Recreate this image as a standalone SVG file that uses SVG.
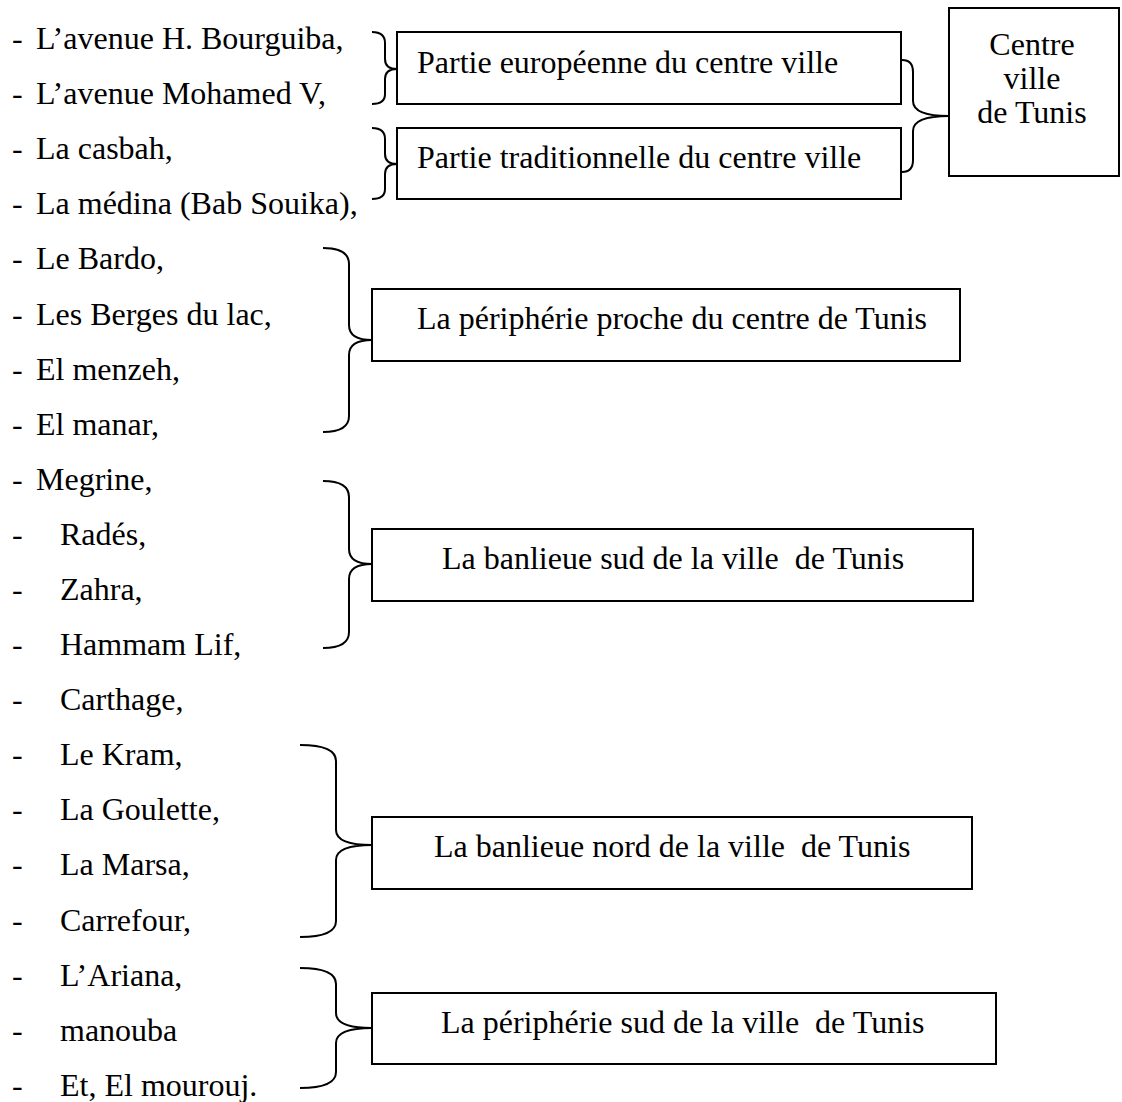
<svg xmlns="http://www.w3.org/2000/svg" width="1122" height="1102" viewBox="0 0 1122 1102">
<style>
text{font-family:"Liberation Serif","Times New Roman",serif;font-size:32px;fill:#000}
.box{fill:#fff;stroke:#000;stroke-width:2}
.br{fill:none;stroke:#000;stroke-width:2}
.c{text-anchor:middle}
</style>
<rect width="1122" height="1102" fill="#fff"/>
<g id="list">
<text x="12" y="49">-</text><text x="36" y="49">L’avenue H. Bourguiba,</text>
<text x="12" y="104">-</text><text x="36" y="104">L’avenue Mohamed V,</text>
<text x="12" y="159">-</text><text x="36" y="159">La casbah,</text>
<text x="12" y="214">-</text><text x="36" y="214">La médina (Bab Souika),</text>
<text x="12" y="269">-</text><text x="36" y="269">Le Bardo,</text>
<text x="12" y="325">-</text><text x="36" y="325">Les Berges du lac,</text>
<text x="12" y="380">-</text><text x="36" y="380">El menzeh,</text>
<text x="12" y="435">-</text><text x="36" y="435">El manar,</text>
<text x="12" y="490">-</text><text x="36" y="490">Megrine,</text>
<text x="12" y="545">-</text><text x="60" y="545">Radés,</text>
<text x="12" y="600">-</text><text x="60" y="600">Zahra,</text>
<text x="12" y="655">-</text><text x="60" y="655">Hammam Lif,</text>
<text x="12" y="710">-</text><text x="60" y="710">Carthage,</text>
<text x="12" y="765">-</text><text x="60" y="765">Le Kram,</text>
<text x="12" y="820">-</text><text x="60" y="820">La Goulette,</text>
<text x="12" y="875">-</text><text x="60" y="875">La Marsa,</text>
<text x="12" y="931">-</text><text x="60" y="931">Carrefour,</text>
<text x="12" y="986">-</text><text x="60" y="986">L’Ariana,</text>
<text x="12" y="1041">-</text><text x="60" y="1041">manouba</text>
<text x="12" y="1096">-</text><text x="60" y="1096">Et, El mourouj.</text>
</g>
<g id="connectors">
<path class="br" d="M372 32 Q385 32 385 43 L385 59 Q385 69 397 69 Q385 69 385 79 L385 94 Q385 104 372 104"/>
<path class="br" d="M372 128 Q385 128 385 139 L385 154 Q385 164 397 164 Q385 164 385 174 L385 189 Q385 199 372 199"/>
<path class="br" d="M902 60 Q913 60 913 72 L913 101 Q913 116 949 116 Q913 116 913 131 L913 160 Q913 172 902 172"/>
<path class="br" d="M323 248 Q349 248 349 264 L349 325 Q349 340 372 340 Q349 340 349 355 L349 416 Q349 432 323 432"/>
<path class="br" d="M323 481 Q349 481 349 497 L349 549 Q349 564 372 564 Q349 564 349 579 L349 632 Q349 648 323 648"/>
<path class="br" d="M300 745 Q336 745 336 761 L336 830 Q336 845 372 845 Q336 845 336 860 L336 921 Q336 937 300 937"/>
<path class="br" d="M300 968 Q336 968 336 984 L336 1013 Q336 1028 372 1028 Q336 1028 336 1043 L336 1072 Q336 1088 300 1088"/>
</g>
<g id="n-europeenne">
<rect class="box" x="397" y="32" width="504" height="72"/>
<text x="417" y="73">Partie européenne du centre ville</text>
</g>
<g id="n-traditionnelle">
<rect class="box" x="397" y="128" width="504" height="71"/>
<text x="417" y="168">Partie traditionnelle du centre ville</text>
</g>
<g id="n-centre">
<rect class="box" x="949" y="8" width="170" height="168"/>
<text class="c" x="1032" y="55">Centre</text>
<text class="c" x="1032" y="89">ville</text>
<text class="c" x="1032" y="123">de Tunis</text>
</g>
<g id="n-peripherie-proche">
<rect class="box" x="372" y="289" width="588" height="72"/>
<text x="417" y="329">La périphérie proche du centre de Tunis</text>
</g>
<g id="n-banlieue-sud">
<rect class="box" x="372" y="529" width="601" height="72"/>
<text x="442" y="569" xml:space="preserve">La banlieue sud de la ville  de Tunis</text>
</g>
<g id="n-banlieue-nord">
<rect class="box" x="372" y="817" width="600" height="72"/>
<text x="434" y="857" xml:space="preserve">La banlieue nord de la ville  de Tunis</text>
</g>
<g id="n-peripherie-sud">
<rect class="box" x="372" y="993" width="624" height="71"/>
<text x="441" y="1033" xml:space="preserve">La périphérie sud de la ville  de Tunis</text>
</g>
</svg>
